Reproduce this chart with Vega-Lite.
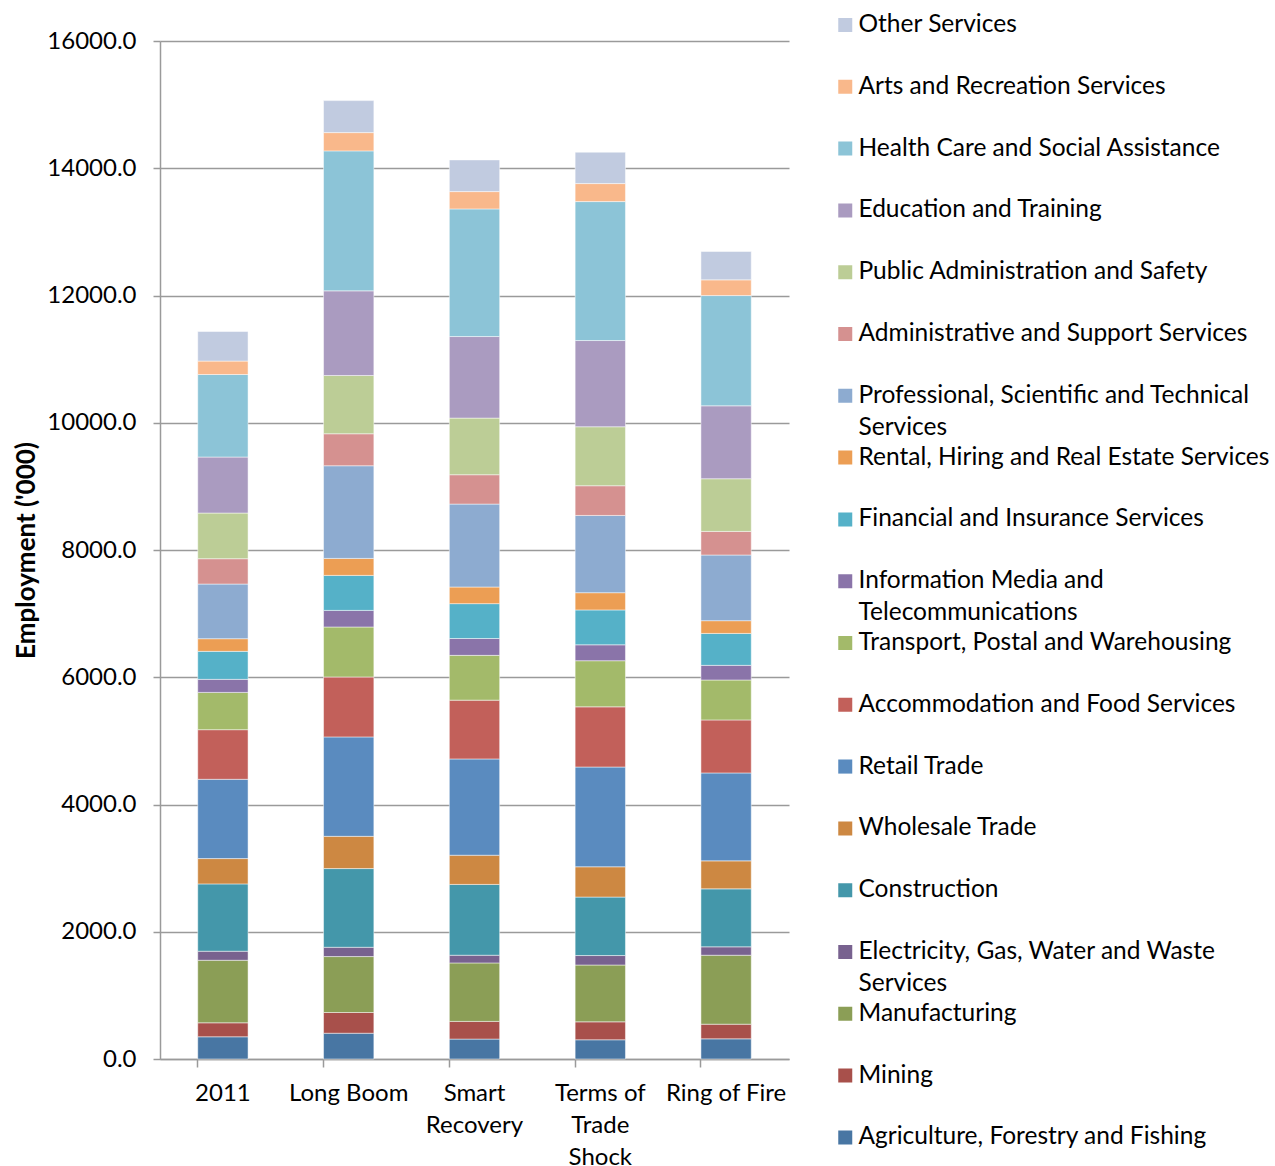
{
  "$schema": "https://vega.github.io/schema/vega-lite/v6.json",
  "autosize": {"type": "none"},
  "padding": {"left": 160, "top": 41, "right": 486, "bottom": 107},
  "width": 629,
  "height": 1018,
  "background": "#ffffff",
  "config": {
    "font": "Lato",
    "view": {"stroke": null},
    "style": {"guide-label": {"lineHeight": 32}}
  },
  "data": {"values": [
    {"scenario":"2011","industry":"Agriculture, Forestry and Fishing","k":1,"value":349},
    {"scenario":"2011","industry":"Mining","k":2,"value":220},
    {"scenario":"2011","industry":"Manufacturing","k":3,"value":983},
    {"scenario":"2011","industry":"Electricity, Gas, Water and Waste Services","k":4,"value":142},
    {"scenario":"2011","industry":"Construction","k":5,"value":1058},
    {"scenario":"2011","industry":"Wholesale Trade","k":6,"value":398},
    {"scenario":"2011","industry":"Retail Trade","k":7,"value":1246},
    {"scenario":"2011","industry":"Accommodation and Food Services","k":8,"value":780},
    {"scenario":"2011","industry":"Transport, Postal and Warehousing","k":9,"value":586},
    {"scenario":"2011","industry":"Information Media and Telecommunications","k":10,"value":205},
    {"scenario":"2011","industry":"Financial and Insurance Services","k":11,"value":440},
    {"scenario":"2011","industry":"Rental, Hiring and Real Estate Services","k":12,"value":199},
    {"scenario":"2011","industry":"Professional, Scientific and Technical Services","k":13,"value":859},
    {"scenario":"2011","industry":"Administrative and Support Services","k":14,"value":398},
    {"scenario":"2011","industry":"Public Administration and Safety","k":15,"value":718},
    {"scenario":"2011","industry":"Education and Training","k":16,"value":880},
    {"scenario":"2011","industry":"Health Care and Social Assistance","k":17,"value":1297},
    {"scenario":"2011","industry":"Arts and Recreation Services","k":18,"value":211},
    {"scenario":"2011","industry":"Other Services","k":19,"value":465},

    {"scenario":"Long Boom","industry":"Agriculture, Forestry and Fishing","k":1,"value":405},
    {"scenario":"Long Boom","industry":"Mining","k":2,"value":326},
    {"scenario":"Long Boom","industry":"Manufacturing","k":3,"value":879},
    {"scenario":"Long Boom","industry":"Electricity, Gas, Water and Waste Services","k":4,"value":146},
    {"scenario":"Long Boom","industry":"Construction","k":5,"value":1237},
    {"scenario":"Long Boom","industry":"Wholesale Trade","k":6,"value":507},
    {"scenario":"Long Boom","industry":"Retail Trade","k":7,"value":1562},
    {"scenario":"Long Boom","industry":"Accommodation and Food Services","k":8,"value":942},
    {"scenario":"Long Boom","industry":"Transport, Postal and Warehousing","k":9,"value":786},
    {"scenario":"Long Boom","industry":"Information Media and Telecommunications","k":10,"value":261},
    {"scenario":"Long Boom","industry":"Financial and Insurance Services","k":11,"value":550},
    {"scenario":"Long Boom","industry":"Rental, Hiring and Real Estate Services","k":12,"value":267},
    {"scenario":"Long Boom","industry":"Professional, Scientific and Technical Services","k":13,"value":1456},
    {"scenario":"Long Boom","industry":"Administrative and Support Services","k":14,"value":503},
    {"scenario":"Long Boom","industry":"Public Administration and Safety","k":15,"value":916},
    {"scenario":"Long Boom","industry":"Education and Training","k":16,"value":1330},
    {"scenario":"Long Boom","industry":"Health Care and Social Assistance","k":17,"value":2200},
    {"scenario":"Long Boom","industry":"Arts and Recreation Services","k":18,"value":287},
    {"scenario":"Long Boom","industry":"Other Services","k":19,"value":503},

    {"scenario":"Smart Recovery","industry":"Agriculture, Forestry and Fishing","k":1,"value":313},
    {"scenario":"Smart Recovery","industry":"Mining","k":2,"value":278},
    {"scenario":"Smart Recovery","industry":"Manufacturing","k":3,"value":919},
    {"scenario":"Smart Recovery","industry":"Electricity, Gas, Water and Waste Services","k":4,"value":121},
    {"scenario":"Smart Recovery","industry":"Construction","k":5,"value":1113},
    {"scenario":"Smart Recovery","industry":"Wholesale Trade","k":6,"value":459},
    {"scenario":"Smart Recovery","industry":"Retail Trade","k":7,"value":1513},
    {"scenario":"Smart Recovery","industry":"Accommodation and Food Services","k":8,"value":924},
    {"scenario":"Smart Recovery","industry":"Transport, Postal and Warehousing","k":9,"value":704},
    {"scenario":"Smart Recovery","industry":"Information Media and Telecommunications","k":10,"value":265},
    {"scenario":"Smart Recovery","industry":"Financial and Insurance Services","k":11,"value":548},
    {"scenario":"Smart Recovery","industry":"Rental, Hiring and Real Estate Services","k":12,"value":261},
    {"scenario":"Smart Recovery","industry":"Professional, Scientific and Technical Services","k":13,"value":1304},
    {"scenario":"Smart Recovery","industry":"Administrative and Support Services","k":14,"value":461},
    {"scenario":"Smart Recovery","industry":"Public Administration and Safety","k":15,"value":890},
    {"scenario":"Smart Recovery","industry":"Education and Training","k":16,"value":1282},
    {"scenario":"Smart Recovery","industry":"Health Care and Social Assistance","k":17,"value":2006},
    {"scenario":"Smart Recovery","industry":"Arts and Recreation Services","k":18,"value":272},
    {"scenario":"Smart Recovery","industry":"Other Services","k":19,"value":498},

    {"scenario":"Terms of Trade Shock","industry":"Agriculture, Forestry and Fishing","k":1,"value":302},
    {"scenario":"Terms of Trade Shock","industry":"Mining","k":2,"value":282},
    {"scenario":"Terms of Trade Shock","industry":"Manufacturing","k":3,"value":893},
    {"scenario":"Terms of Trade Shock","industry":"Electricity, Gas, Water and Waste Services","k":4,"value":149},
    {"scenario":"Terms of Trade Shock","industry":"Construction","k":5,"value":919},
    {"scenario":"Terms of Trade Shock","industry":"Wholesale Trade","k":6,"value":476},
    {"scenario":"Terms of Trade Shock","industry":"Retail Trade","k":7,"value":1568},
    {"scenario":"Terms of Trade Shock","industry":"Accommodation and Food Services","k":8,"value":946},
    {"scenario":"Terms of Trade Shock","industry":"Transport, Postal and Warehousing","k":9,"value":725},
    {"scenario":"Terms of Trade Shock","industry":"Information Media and Telecommunications","k":10,"value":250},
    {"scenario":"Terms of Trade Shock","industry":"Financial and Insurance Services","k":11,"value":548},
    {"scenario":"Terms of Trade Shock","industry":"Rental, Hiring and Real Estate Services","k":12,"value":271},
    {"scenario":"Terms of Trade Shock","industry":"Professional, Scientific and Technical Services","k":13,"value":1214},
    {"scenario":"Terms of Trade Shock","industry":"Administrative and Support Services","k":14,"value":467},
    {"scenario":"Terms of Trade Shock","industry":"Public Administration and Safety","k":15,"value":927},
    {"scenario":"Terms of Trade Shock","industry":"Education and Training","k":16,"value":1355},
    {"scenario":"Terms of Trade Shock","industry":"Health Care and Social Assistance","k":17,"value":2184},
    {"scenario":"Terms of Trade Shock","industry":"Arts and Recreation Services","k":18,"value":283},
    {"scenario":"Terms of Trade Shock","industry":"Other Services","k":19,"value":493},

    {"scenario":"Ring of Fire","industry":"Agriculture, Forestry and Fishing","k":1,"value":317},
    {"scenario":"Ring of Fire","industry":"Mining","k":2,"value":230},
    {"scenario":"Ring of Fire","industry":"Manufacturing","k":3,"value":1084},
    {"scenario":"Ring of Fire","industry":"Electricity, Gas, Water and Waste Services","k":4,"value":132},
    {"scenario":"Ring of Fire","industry":"Construction","k":5,"value":911},
    {"scenario":"Ring of Fire","industry":"Wholesale Trade","k":6,"value":440},
    {"scenario":"Ring of Fire","industry":"Retail Trade","k":7,"value":1382},
    {"scenario":"Ring of Fire","industry":"Accommodation and Food Services","k":8,"value":833},
    {"scenario":"Ring of Fire","industry":"Transport, Postal and Warehousing","k":9,"value":628},
    {"scenario":"Ring of Fire","industry":"Information Media and Telecommunications","k":10,"value":230},
    {"scenario":"Ring of Fire","industry":"Financial and Insurance Services","k":11,"value":502},
    {"scenario":"Ring of Fire","industry":"Rental, Hiring and Real Estate Services","k":12,"value":200},
    {"scenario":"Ring of Fire","industry":"Professional, Scientific and Technical Services","k":13,"value":1032},
    {"scenario":"Ring of Fire","industry":"Administrative and Support Services","k":14,"value":371},
    {"scenario":"Ring of Fire","industry":"Public Administration and Safety","k":15,"value":828},
    {"scenario":"Ring of Fire","industry":"Education and Training","k":16,"value":1146},
    {"scenario":"Ring of Fire","industry":"Health Care and Social Assistance","k":17,"value":1733},
    {"scenario":"Ring of Fire","industry":"Arts and Recreation Services","k":18,"value":247},
    {"scenario":"Ring of Fire","industry":"Other Services","k":19,"value":445}
  ]},
  "mark": {"type": "bar", "stroke": "#ffffff", "strokeWidth": 0.8, "strokeOpacity": 0.6},
  "encoding": {
    "x": {
      "field": "scenario", "type": "nominal",
      "sort": ["2011", "Long Boom", "Smart Recovery", "Terms of Trade Shock", "Ring of Fire"],
      "scale": {"paddingInner": 0.6, "paddingOuter": 0.3},
      "axis": {
        "title": null,
        "labelAngle": 0,
        "labelFontSize": 24,
        "labelColor": "#000000",
        "labelPadding": 14,
        "labelBaseline": "top",
        "labelExpr": "datum.label == 'Smart Recovery' ? ['Smart', 'Recovery'] : datum.label == 'Terms of Trade Shock' ? ['Terms of', 'Trade', 'Shock'] : datum.label",
        "bandPosition": 0,
        "tickSize": 8,
        "tickColor": "#9a9a9a",
        "tickWidth": 1.5,
        "domainColor": "#9a9a9a",
        "domainWidth": 1.5,
        "grid": false
      }
    },
    "y": {
      "field": "value", "type": "quantitative", "stack": "zero",
      "scale": {"domain": [0, 16000], "nice": false},
      "axis": {
        "title": "Employment ('000)",
        "titleFontSize": 26,
        "titleFontWeight": "bold",
        "titleColor": "#000000",
        "titlePadding": 7,
        "values": [0, 2000, 4000, 6000, 8000, 10000, 12000, 14000, 16000],
        "format": ".1f",
        "labelFontSize": 24,
        "labelColor": "#000000",
        "labelPadding": 17,
        "tickSize": 7,
        "tickColor": "#9a9a9a",
        "tickWidth": 1.5,
        "domainColor": "#9a9a9a",
        "domainWidth": 1.5,
        "grid": true,
        "gridColor": "#9a9a9a",
        "gridWidth": 1.5
      }
    },
    "order": {"field": "k", "type": "quantitative", "sort": "ascending"},
    "color": {
      "field": "industry", "type": "nominal",
      "scale": {
        "domain": [
          "Other Services",
          "Arts and Recreation Services",
          "Health Care and Social Assistance",
          "Education and Training",
          "Public Administration and Safety",
          "Administrative and Support Services",
          "Professional, Scientific and Technical Services",
          "Rental, Hiring and Real Estate Services",
          "Financial and Insurance Services",
          "Information Media and Telecommunications",
          "Transport, Postal and Warehousing",
          "Accommodation and Food Services",
          "Retail Trade",
          "Wholesale Trade",
          "Construction",
          "Electricity, Gas, Water and Waste Services",
          "Manufacturing",
          "Mining",
          "Agriculture, Forestry and Fishing"
        ],
        "range": [
          "#C1CBE0", "#F9B88B", "#8CC4D7", "#AA9BC0", "#BCCD96", "#D59190", "#8DABD0",
          "#EC9E54", "#55B1C8", "#8A74A9", "#A3BA6A", "#C2605A", "#5A8BBF", "#CD8842",
          "#4497AA", "#78628F", "#8B9E56", "#A8504B", "#4876A3"
        ]
      },
      "legend": {
        "title": null,
        "orient": "none",
        "legendX": 673,
        "legendY": -27,
        "padding": 0,
        "symbolType": "square",
        "symbolSize": 196,
        "symbolStrokeWidth": 0,
        "labelFontSize": 24.5,
        "labelColor": "#000000",
        "labelOffset": 1,
        "labelLimit": 500,
        "gridAlign": "all",
        "rowPadding": 4.8,
        "clipHeight": 22,
        "labelExpr": "datum.label == 'Professional, Scientific and Technical Services' ? ['Professional, Scientific and Technical', 'Services'] : datum.label == 'Information Media and Telecommunications' ? ['Information Media and', 'Telecommunications'] : datum.label == 'Electricity, Gas, Water and Waste Services' ? ['Electricity, Gas, Water and Waste', 'Services'] : datum.label"
      }
    }
  }
}
